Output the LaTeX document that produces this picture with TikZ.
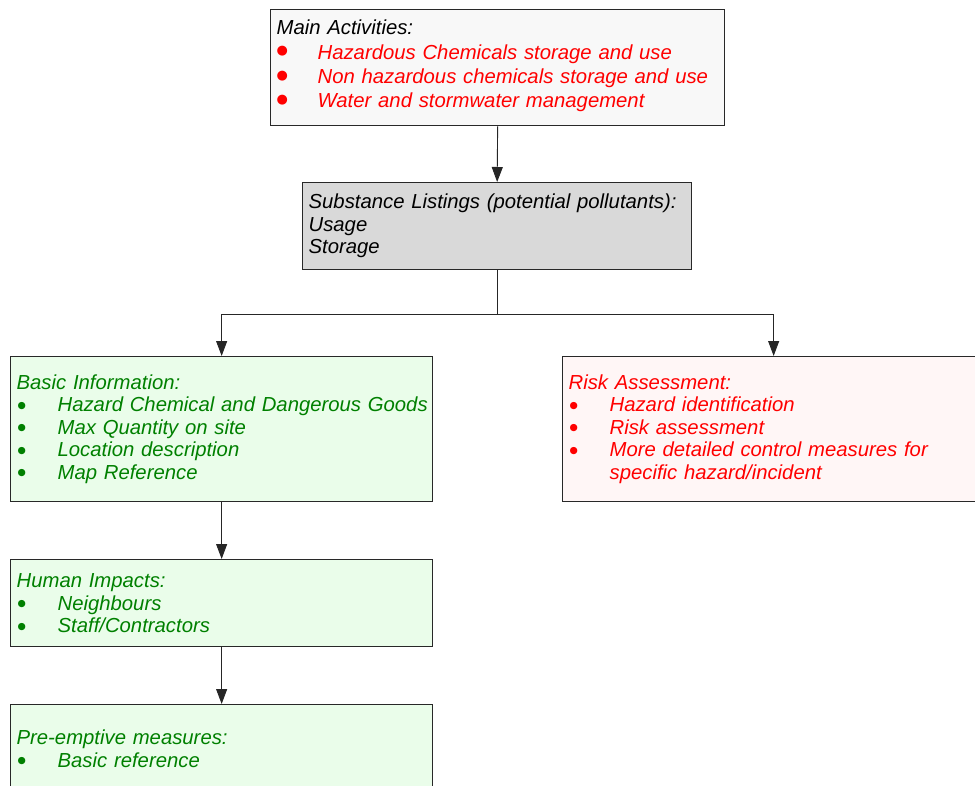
\documentclass[tikz,border=0pt]{standalone}
\usepackage{fontspec}
\setmainfont{Liberation Sans}
\newfontfamily\djv{DejaVu Sans}
\usetikzlibrary{arrows.meta}
\definecolor{cred}{RGB}{255,0,0}
\definecolor{cgreen}{RGB}{0,128,0}
\definecolor{fmain}{RGB}{248,248,248}
\definecolor{fsub}{RGB}{217,217,217}
\definecolor{fgreen}{RGB}{234,253,234}
\definecolor{fred}{RGB}{255,246,246}
\definecolor{bord}{RGB}{40,40,40}
\newcommand\bigbul{\makebox[41pt][l]{\raisebox{4.5pt}{\djv\upshape\fontsize{13}{13}\selectfont ●}}}
\newcommand\smbul{\makebox[41pt][l]{\hspace*{1pt}\raisebox{3.5pt}{\djv\upshape\fontsize{9.5}{10}\selectfont ●}}}
\begin{document}
\begin{tikzpicture}[x=1pt,y=-1pt,
  box/.style={draw=bord, line width=1.3pt, rectangle, anchor=north west,
    inner xsep=6pt, inner ysep=0pt, align=left,
    font=\fontsize{20.3}{22.5}\selectfont\itshape},
  conn/.style={draw=black!85, line width=0.9pt},
  arr/.style={conn, -{Triangle[width=11pt,length=15pt]}}]
\useasboundingbox (0,0) rectangle (975,785);
\clip (0,0) rectangle (975,785);
\node[box, fill=fmain, text=cred, minimum width=454pt, minimum height=116pt, text width=442pt,
  font=\fontsize{20.3}{24.3}\selectfont\itshape] (main) at (270,9)
  {\textcolor{black}{Main Activities:}\\
   \mbox{\bigbul Hazardous Chemicals storage and use}\\
   \mbox{\bigbul Non hazardous chemicals storage and use}\\
   \mbox{\bigbul Water and stormwater management}\vspace*{3pt}};
\node[box, fill=fsub, text=black, minimum width=389pt, minimum height=87pt, text width=377pt] (sub) at (302,182)
  {\mbox{Substance Listings (potential pollutants):}\\
   Usage\\
   Storage};
\node[box, fill=fgreen, text=cgreen, minimum width=422pt, minimum height=145pt, text width=410pt] (basic) at (10,356)
  {Basic Information:\\
   \mbox{\smbul Hazard Chemical and Dangerous Goods}\\
   \mbox{\smbul Max Quantity on site}\\
   \mbox{\smbul Location description}\\
   \mbox{\smbul Map Reference}};
\node[box, fill=fred, text=cred, minimum width=422pt, minimum height=145pt, text width=410pt] (risk) at (562,356)
  {Risk Assessment:\\
   \mbox{\smbul Hazard identification}\\
   \mbox{\smbul Risk assessment}\\
   \mbox{\smbul More detailed control measures for}\\
   \mbox{\hspace*{41pt}specific hazard/incident}};
\node[box, fill=fgreen, text=cgreen, minimum width=422pt, minimum height=87pt, text width=410pt] (human) at (10,559)
  {Human Impacts:\\
   \mbox{\smbul Neighbours}\\
   \mbox{\smbul Staff/Contractors}};
\node[box, fill=fgreen, text=cgreen, minimum width=422pt, minimum height=88pt, text width=410pt] (pre) at (10,704)
  {Pre-emptive measures:\\
   \mbox{\smbul Basic reference}};
\draw[arr] (main.south) -- (sub.north);
\draw[conn] (sub.south) -- ++(0,44) coordinate (j);
\draw[arr] (j) -| (basic.north);
\draw[arr] (j) -| (risk.north);
\draw[arr] (basic.south) -- (human.north);
\draw[arr] (human.south) -- (pre.north);
\end{tikzpicture}
\end{document}
